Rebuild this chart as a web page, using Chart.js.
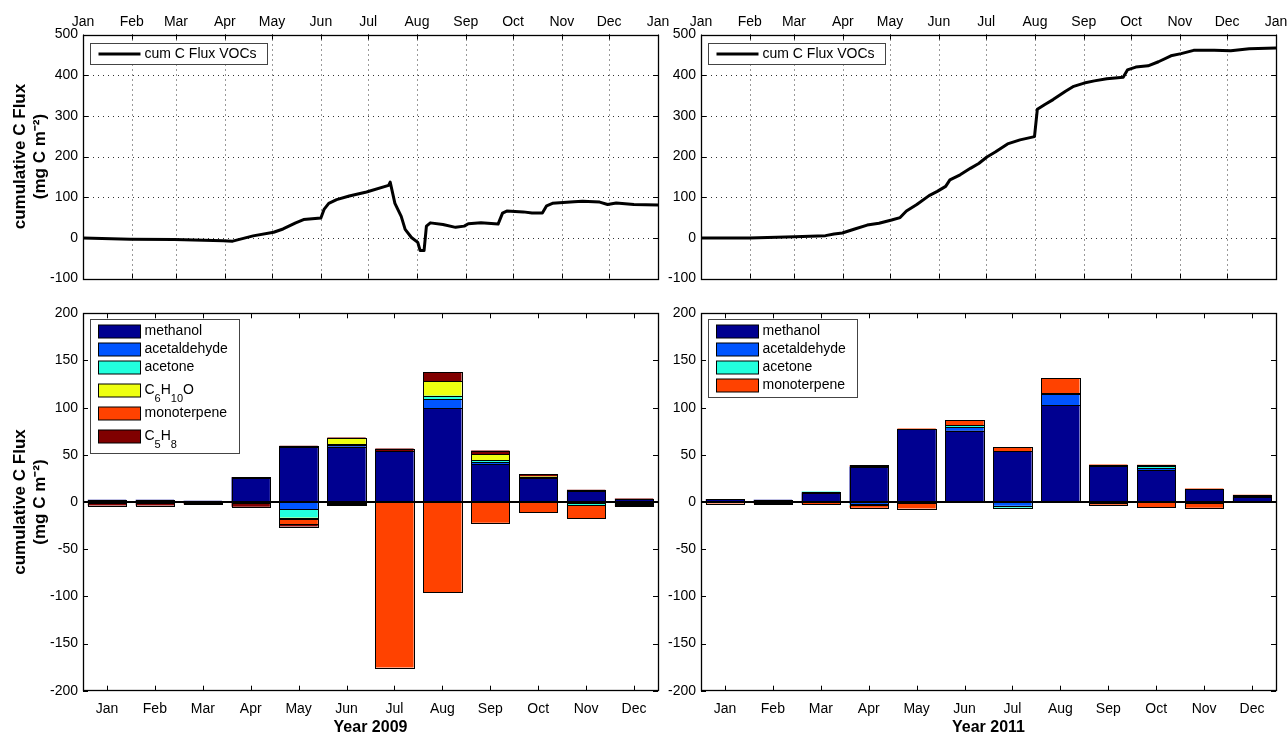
<!DOCTYPE html>
<html>
<head>
<meta charset="utf-8">
<script src="https://cdn.jsdelivr.net/npm/chart.js@4.4.1/dist/chart.umd.min.js"></script>
<style>
  body { margin: 0; background: #fff; width: 1287px; height: 734px; position: relative; overflow: hidden; }
  canvas { position: absolute; }
</style>
</head>
<body>
<canvas id="flux2009" width="680" height="292" style="left:0;top:0"></canvas>
<canvas id="flux2011" width="680" height="292" style="left:650px;top:0"></canvas>
<canvas id="bars2009" width="680" height="450" style="left:0;top:292px"></canvas>
<canvas id="bars2011" width="680" height="450" style="left:650px;top:292px"></canvas>
<script>
// month axis of the cumulative plots
var monthStartDays = [0, 31, 59, 90, 120, 151, 181, 212, 243, 273, 304, 334, 365];
var monthTickLabels = ['Jan', 'Feb', 'Mar', 'Apr', 'May', 'Jun', 'Jul', 'Aug', 'Sep', 'Oct', 'Nov', 'Dec', 'Jan'];
var months = ['Jan', 'Feb', 'Mar', 'Apr', 'May', 'Jun', 'Jul', 'Aug', 'Sep', 'Oct', 'Nov', 'Dec'];

// cumulative C flux (day of year, mg C m-2)
var days2009 = [0, 30, 58, 89, 95, 108, 121, 127, 135, 140, 151, 153, 156, 161, 169, 180, 194, 195, 198, 202,
    204.5, 208.5, 212.5, 214, 216.5, 218, 220.5, 228.5, 236.5, 242, 244.6, 252.6, 263.5, 266.3, 269, 279.5,
    285, 291.6, 294.3, 298, 311.7, 317, 328, 333, 338.5, 349.7, 365];
var flux2009 = [0, -3, -4, -7, -8, 5, 14, 22, 37, 45, 49, 70, 85, 94, 103, 113, 129, 137, 85, 53,
    21, 1, -11, -31, -31, 29, 37, 33, 26, 29, 35, 37, 34, 61, 66, 64,
    61, 61, 79, 85, 89, 90, 88, 82, 86, 82, 81];
var days2011 = [0, 30.7, 59.5, 79, 84.5, 89.7, 97.6, 105.5, 113, 121, 126.4, 130.4, 137, 144.8, 150, 155.3,
    158, 164.5, 171, 176.3, 181.5, 186.8, 194.6, 202.5, 211.7, 213.5, 218.3, 223.5, 231.4, 236.6, 243.2,
    249.7, 257.6, 268, 270.7, 276, 283.8, 290.4, 298.3, 304.8, 312.7, 325.8, 336.3, 348, 365];
var flux2011 = [0, 0, 3, 5.6, 9.7, 12, 22, 31.5, 36, 44, 50, 66, 82, 104, 114.5, 126.6,
    142.7, 155, 171, 183, 199, 211, 231, 241, 249, 316, 328, 340, 360.5, 372.6, 380.6,
    386, 391, 395, 413, 420, 423, 433, 447.6, 453, 461, 461, 460, 465, 467];

// monthly fluxes 2009, emission (up) and deposition (down)
var methanolUp2009     = [2.5, 2.5, 1.3, 25.7, 58, 58.5, 53.8, 99.2, 40, 25.5, 12, 3];
var acetaldehydeUp2009 = [0, 0, 0, 0, 0, 1.5, 0, 10.1, 2.5, 0.5, 0, 0];
var acetoneUp2009      = [0, 0, 0, 0, 0, 1, 0, 3.2, 1.5, 0.5, 0, 0];
var c6h10oUp2009       = [0, 0, 0, 0, 0, 6.5, 0, 15.3, 6.5, 0.5, 0, 0];
var monoterpeneUp2009  = [0, 0, 0, 0, 0, 0, 0, 0, 0, 0, 0, 0];
var c5h8Up2009         = [0, 0, 0, 0.8, 1.5, 0.8, 2.8, 9.9, 4, 2.5, 1, 0.6];
var methanolDown2009     = [0, 0, 0, 0, 0, 0, 0, 0, 0, 0, 0, 0];
var acetaldehydeDown2009 = [0, 0, 0, -1, -7.5, 0, 0, 0, 0, 0, -1, -1.2];
var acetoneDown2009      = [0, 0, 0, 0, -9, -1.2, 0, 0, 0, 0, -2.5, -1.2];
var c6h10oDown2009       = [-1.5, -1, -1, 0, -2, 0, 0, 0, 0, 0, 0, 0];
var monoterpeneDown2009  = [0, 0, 0, 0, -5, -1.3, -175.5, -95.5, -21.9, -10.6, -13.5, -1.2];
var c5h8Down2009         = [-2.3, -2.8, -1.3, -4, -2.5, -1, 0, 0, 0, 0, 0, -1];

// monthly fluxes 2011
var methanolUp2011     = [2.8, 2.5, 10, 37.5, 77, 75.5, 53.8, 102.5, 38.5, 33.5, 13.5, 5.5];
var acetaldehydeUp2011 = [0, 0, 0, 0, 0, 4, 0, 12, 0, 2.5, 0, 1];
var acetoneUp2011      = [0, 0, 1, 0.5, 0, 2, 0, 0.5, 0.5, 2, 0, 0.5];
var monoterpeneUp2011  = [0.5, 0, 0, 1, 0.8, 5.5, 4.5, 16.5, 0.7, 1.5, 0.7, 0.8];
var methanolDown2011     = [0, 0, 0, 0, 0, 0, 0, 0, 0, 0, 0, 0];
var acetaldehydeDown2011 = [-0.5, -0.8, 0, -2, 0, 0, -4, 0, 0, 0, -1.5, 0];
var acetoneDown2011      = [0, 0, 0, -1.5, -1.5, 0, -2, 0, -1.5, 0, 0, 0];
var monoterpeneDown2011  = [-1.2, -1, -2.5, -2.5, -5.5, 0, 0, 0, -1.3, -5.3, -4.5, 0];

var species2009 = ['methanol', 'acetaldehyde', 'acetone', 'C_6H_{10}O', 'monoterpene', 'C_5H_8'];
var species2011 = ['methanol', 'acetaldehyde', 'acetone', 'monoterpene'];
var colors2009 = ['#000090', '#0055ff', '#22ffdd', '#efff10', '#ff4200', '#800000'];
var colors2011 = ['#000090', '#0055ff', '#22ffdd', '#ff4200'];

var FONT = "'Liberation Sans', Arial, Helvetica, sans-serif";
Chart.defaults.font.family = FONT;
Chart.defaults.font.size = 14;
Chart.defaults.color = '#000';

// text with _x or _{xx} subscripts
function drawRichText(ctx, text, x, y) {
    var parts = text.split(/(_\{[^}]*\}|_.)/).filter(Boolean);
    parts.forEach(function (p) {
        var sub = p[0] === '_';
        var s = sub ? p.replace(/^_\{?/, '').replace(/\}$/, '') : p;
        ctx.font = sub ? '11px ' + FONT : '14px ' + FONT;
        ctx.fillText(s, x, sub ? y + 8 : y);
        x += ctx.measureText(s).width;
    });
}

// matlab-like box: dotted grid, inward ticks, bar edges, zero line, legend inside the axes
var matlabPlugin = {
    id: 'matlab',
    defaults: { dotted: false, zeroLine: false, legendType: 'box', legendWidth: 150, legendTop: 6 },
    beforeDatasetsDraw: function (chart, args, opts) {
        if (!opts.dotted) return;
        var ctx = chart.ctx, a = chart.chartArea, sx = chart.scales.x, sy = chart.scales.y;
        ctx.save();
        ctx.strokeStyle = '#333';
        ctx.lineWidth = 1;
        ctx.setLineDash([1, 4]);
        sx.ticks.forEach(function (t) {
            var px = Math.round(sx.getPixelForValue(t.value)) + 0.5;
            if (px < a.left + 2 || px > a.right - 2) return;
            ctx.beginPath(); ctx.moveTo(px, a.top); ctx.lineTo(px, a.bottom); ctx.stroke();
        });
        sy.ticks.forEach(function (t) {
            var py = Math.round(sy.getPixelForValue(t.value)) + 0.5;
            if (py < a.top + 2 || py > a.bottom - 2) return;
            ctx.beginPath(); ctx.moveTo(a.left, py); ctx.lineTo(a.right, py); ctx.stroke();
        });
        ctx.restore();
    },
    afterDatasetsDraw: function (chart, args, opts) {
        var ctx = chart.ctx, a = chart.chartArea, sx = chart.scales.x, sy = chart.scales.y;
        ctx.save();
        ctx.strokeStyle = '#000';

        // black edge round every bar segment (thin ones come out as dark lines, like matlab)
        ctx.lineWidth = 1;
        chart.getSortedVisibleDatasetMetas().forEach(function (meta) {
            if (meta.type !== 'bar') return;
            meta.data.forEach(function (el, i) {
                var v = chart.data.datasets[meta.index].data[i];
                if (v === null || v === undefined) return;
                var p = el.getProps(['x', 'y', 'base', 'width'], true);
                var left = Math.round(p.x - p.width / 2) + 0.5;
                var right = Math.round(p.x + p.width / 2) + 0.5;
                var top = Math.round(Math.min(p.y, p.base)) + 0.5;
                var bottom = Math.round(Math.max(p.y, p.base)) + 0.5;
                ctx.strokeRect(left, top, right - left, bottom - top);
            });
        });

        if (opts.zeroLine) {
            var zy = sy.getPixelForValue(0);
            ctx.lineWidth = 2;
            ctx.beginPath(); ctx.moveTo(a.left, zy); ctx.lineTo(a.right, zy); ctx.stroke();
        }
        ctx.lineWidth = 1;
        sx.ticks.forEach(function (t) {
            var px = Math.round(sx.getPixelForValue(t.value)) + 0.5;
            ctx.beginPath();
            ctx.moveTo(px, a.top); ctx.lineTo(px, a.top + 5);
            ctx.moveTo(px, a.bottom); ctx.lineTo(px, a.bottom - 5);
            ctx.stroke();
        });
        sy.ticks.forEach(function (t) {
            var py = Math.round(sy.getPixelForValue(t.value)) + 0.5;
            ctx.beginPath();
            ctx.moveTo(a.left, py); ctx.lineTo(a.left + 5, py);
            ctx.moveTo(a.right, py); ctx.lineTo(a.right - 5, py);
            ctx.stroke();
        });
        ctx.lineWidth = 1.3;
        ctx.strokeRect(Math.round(a.left) + 0.5, Math.round(a.top) + 0.5,
            Math.round(a.right - a.left), Math.round(a.bottom - a.top));

        // legend
        var items = chart.data.datasets.filter(function (d) { return d.inLegend; });
        var rows = items.map(function (d) {
            if (opts.legendType === 'line') return 21;
            return /_/.test(d.label) ? 28 : 18;
        });
        var pad = opts.legendType === 'line' ? 0 : 3;
        var h = rows.reduce(function (s, r) { return s + r; }, 0) + 2 * pad;
        var x0 = Math.round(a.left + 7) + 0.5, y0 = Math.round(a.top + opts.legendTop) + 0.5;
        ctx.fillStyle = '#fff';
        ctx.fillRect(x0, y0, opts.legendWidth, h);
        ctx.strokeStyle = '#444';
        ctx.lineWidth = 1;
        ctx.strokeRect(x0, y0, opts.legendWidth, h);
        var y = y0 + pad;
        items.forEach(function (d, i) {
            var cy = y + rows[i] / 2;
            if (opts.legendType === 'line') {
                ctx.strokeStyle = d.borderColor;
                ctx.lineWidth = 3;
                ctx.beginPath(); ctx.moveTo(x0 + 8, cy); ctx.lineTo(x0 + 50, cy); ctx.stroke();
            } else {
                ctx.fillStyle = d.backgroundColor;
                ctx.fillRect(x0 + 8, cy - 6.5, 42, 13);
                ctx.strokeStyle = '#000';
                ctx.lineWidth = 1;
                ctx.strokeRect(x0 + 8, cy - 6.5, 42, 13);
            }
            ctx.fillStyle = '#000';
            ctx.textBaseline = 'middle';
            ctx.textAlign = 'left';
            drawRichText(ctx, d.label, x0 + 54, cy);
            y += rows[i];
        });
        ctx.restore();
    }
};
Chart.register(matlabPlugin);

var yTitle = {
    display: true,
    text: ['cumulative C Flux', '(mg C m\u207B\u00B2)'],
    font: { size: 17, weight: 'bold', lineHeight: 1.2 },
    padding: { top: 10, bottom: 0 }
};

function makeLineChart(id, days, flux, yWidth, padRight, showTitle) {
    var points = days.map(function (d, i) { return { x: d, y: flux[i] }; });
    return new Chart(document.getElementById(id), {
        type: 'line',
        data: {
            datasets: [{
                label: 'cum C Flux VOCs',
                data: points,
                borderColor: '#000',
                borderWidth: 3,
                borderJoinStyle: 'round',
                borderCapStyle: 'round',
                pointRadius: 0,
                tension: 0,
                inLegend: true
            }]
        },
        options: {
            responsive: false,
            animation: false,
            layout: { padding: { top: 0, right: padRight, bottom: 8, left: 0 } },
            plugins: {
                legend: { display: false },
                tooltip: { enabled: false },
                matlab: { dotted: true, legendType: 'line', legendWidth: 177, legendTop: 8.5 }
            },
            scales: {
                x: {
                    type: 'linear',
                    position: 'top',
                    min: 0,
                    max: 365,
                    afterBuildTicks: function (s) {
                        s.ticks = monthStartDays.map(function (v) { return { value: v }; });
                    },
                    afterFit: function (s) { s.height = 34.5; },
                    ticks: {
                        autoSkip: false, maxRotation: 0, padding: 4,
                        callback: function (v, i) { return monthTickLabels[i]; }
                    },
                    grid: { display: false, drawTicks: false },
                    border: { display: false }
                },
                y: {
                    min: -100,
                    max: 500,
                    afterFit: function (s) { s.width = yWidth; },
                    ticks: { stepSize: 100, padding: 5 },
                    grid: { display: false, drawTicks: false },
                    border: { display: false },
                    title: showTitle ? yTitle : { display: false }
                }
            }
        }
    });
}

function makeBarChart(id, names, colors, up, down, yearLabel, yWidth, padRight, showTitle) {
    var noZero = function (v) { return v === 0 ? null : v; };
    var datasets = [];
    names.forEach(function (n, i) {
        datasets.push({ label: n, data: up[i].map(noZero), backgroundColor: colors[i], inLegend: true });
    });
    names.forEach(function (n, i) {
        datasets.push({ label: n, data: down[i].map(noZero), backgroundColor: colors[i], inLegend: false });
    });
    datasets.forEach(function (d) {
        d.borderWidth = 0;
        d.stack = 'flux';
        d.barPercentage = 0.8;
        d.categoryPercentage = 1.0;
    });
    return new Chart(document.getElementById(id), {
        type: 'bar',
        data: { labels: months, datasets: datasets },
        options: {
            responsive: false,
            animation: false,
            layout: { padding: { top: 21.3, right: padRight, bottom: 0, left: 0 } },
            plugins: {
                legend: { display: false },
                tooltip: { enabled: false },
                matlab: { zeroLine: true, legendType: 'box', legendWidth: 149, legendTop: 5.7 }
            },
            scales: {
                x: {
                    stacked: true,
                    afterFit: function (s) { s.height = 51.3; },
                    ticks: { autoSkip: false, maxRotation: 0, padding: 10 },
                    grid: { display: false, drawTicks: false },
                    border: { display: false },
                    title: {
                        display: true, text: yearLabel,
                        font: { size: 16, weight: 'bold' },
                        padding: { top: 0, bottom: 5 }
                    }
                },
                y: {
                    stacked: true,
                    min: -200,
                    max: 200,
                    afterFit: function (s) { s.width = yWidth; },
                    ticks: { stepSize: 50, padding: 5 },
                    grid: { display: false, drawTicks: false },
                    border: { display: false },
                    title: showTitle ? yTitle : { display: false }
                }
            }
        }
    });
}

makeLineChart('flux2009', days2009, flux2009, 83, 22, true);
makeLineChart('flux2011', days2011, flux2011, 51, 54, false);

makeBarChart('bars2009', species2009, colors2009,
    [methanolUp2009, acetaldehydeUp2009, acetoneUp2009, c6h10oUp2009, monoterpeneUp2009, c5h8Up2009],
    [methanolDown2009, acetaldehydeDown2009, acetoneDown2009, c6h10oDown2009, monoterpeneDown2009, c5h8Down2009],
    'Year 2009', 83, 22, true);
makeBarChart('bars2011', species2011, colors2011,
    [methanolUp2011, acetaldehydeUp2011, acetoneUp2011, monoterpeneUp2011],
    [methanolDown2011, acetaldehydeDown2011, acetoneDown2011, monoterpeneDown2011],
    'Year 2011', 51, 54, false);
</script>
</body>
</html>
